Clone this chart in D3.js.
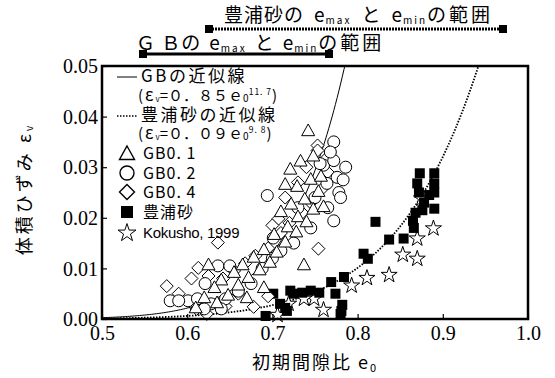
<!DOCTYPE html>
<html>
<head>
<meta charset="utf-8">
<script src="https://cdn.jsdelivr.net/npm/d3@7"></script>
<style>
  body { margin: 0; background: #fff; }
  svg { display: block; }
</style>
</head>
<body>
<svg id="chart" width="555" height="378"></svg>
<script>
// ---- data ----
const xTicks = [0.5, 0.6, 0.7, 0.8, 0.9, 1.0];
const yTicks = [0.00, 0.01, 0.02, 0.03, 0.04, 0.05];

// GB0.1 (triangles) [e0, εv]
const gb01 = [[0.742,0.037],[0.721,0.0294],[0.733,0.031],[0.748,0.032],[0.715,0.0264],[0.729,0.026],
  [0.745,0.0274],[0.754,0.025],[0.738,0.0235],[0.722,0.0225],[0.71,0.021],[0.73,0.02],[0.748,0.0215],
  [0.76,0.022],[0.718,0.018],[0.702,0.0165],[0.737,0.0105],[0.69,0.0135],[0.678,0.012],[0.665,0.0105],
  [0.655,0.009],[0.64,0.0075],[0.625,0.0105],[0.632,0.006],[0.62,0.004],[0.648,0.0045],[0.66,0.0065],
  [0.672,0.008],[0.685,0.0095],[0.697,0.011],[0.705,0.013],[0.61,0.002],[0.635,0.003],[0.67,0.004],
  [0.69,0.006],[0.715,0.015],[0.728,0.017],[0.74,0.019],[0.757,0.028]];
// GB0.2 (circles)
const gb02 = [[0.772,0.035],[0.76,0.0304],[0.772,0.0313],[0.786,0.030],[0.776,0.028],[0.764,0.0268],
  [0.694,0.0244],[0.778,0.025],[0.772,0.0194],[0.756,0.0307],[0.701,0.016],[0.636,0.0105],[0.65,0.0105],
  [0.621,0.007],[0.58,0.0036],[0.601,0.0036],[0.59,0.0036],[0.612,0.004],[0.628,0.003],[0.645,0.004],
  [0.66,0.0055],[0.675,0.007],[0.688,0.01],[0.7,0.012],[0.71,0.0135],[0.725,0.015],[0.745,0.018],
  [0.765,0.022],[0.78,0.024],[0.768,0.033],[0.783,0.0275],[0.62,0.002],[0.64,0.002],[0.73,0.022],[0.75,0.024]];
// GB0.4 (diamonds)
const gb04 = [[0.753,0.0343],[0.753,0.0333],[0.707,0.0198],[0.636,0.0151],[0.754,0.0139],[0.613,0.0101],
  [0.576,0.0065],[0.678,0.0024],[0.623,0.001],[0.611,0.002],[0.59,0.005],[0.605,0.008],[0.625,0.0085],
  [0.642,0.008],[0.655,0.0095],[0.668,0.011],[0.68,0.0125],[0.695,0.014],[0.71,0.017],[0.72,0.019],
  [0.735,0.021],[0.745,0.023],[0.76,0.026],[0.765,0.029],[0.74,0.03],[0.73,0.027],[0.7,0.0185],
  [0.66,0.005],[0.645,0.0025],[0.695,0.0045],[0.715,0.024],[0.762,0.0315]];
// 豊浦砂 (filled squares)
const toyoura = [[0.873,0.0288],[0.890,0.0288],[0.870,0.0268],[0.890,0.0268],[0.872,0.025],[0.890,0.025],
  [0.878,0.023],[0.890,0.0218],[0.868,0.021],[0.865,0.0194],[0.866,0.018],[0.821,0.0192],[0.837,0.0157],
  [0.854,0.0159],[0.807,0.0129],[0.812,0.0119],[0.784,0.0083],[0.769,0.0073],[0.774,0.005],[0.725,0.005],
  [0.745,0.0056],[0.755,0.0052],[0.735,0.0052],[0.782,0.0028],[0.78,0.001],[0.781,0.0016],[0.715,0.0022],
  [0.692,0.0006],[0.709,0.003],[0.717,0.0016],[0.884,0.0245],[0.876,0.0215],[0.701,0.005],[0.721,0.0056]];
// Kokusho, 1999 (stars)
const kokusho = [[0.875,0.0238],[0.889,0.0179],[0.870,0.0159],[0.853,0.0127],[0.870,0.0119],[0.837,0.0087],
  [0.811,0.0081],[0.793,0.0066],[0.760,0.0018],[0.749,0.004],[0.737,0.004],[0.719,0.003],[0.706,0.0008]];

// fitted curves εv = a * e0^b (from legend)
const gbFit = { a: 0.85, b: 11.7 };
const toyFit = { a: 0.09, b: 9.8 };
// emax / emin ranges shown above the chart
const gbRange = [0.548, 0.766];
const toyRange = [0.625, 0.971];

// ---- layout ----
const svg = d3.select("#chart");
const plotL = 102, plotR = 528, plotT = 66, plotB = 319;

const x = d3.scaleLinear().domain([0.5, 1.0]).range([plotL, plotR]);
const y = d3.scaleLinear().domain([0, 0.05]).range([plotB, plotT]);

const serif = "'Liberation Serif', 'Times New Roman', serif";
const jp = "'Noto Sans CJK JP', sans-serif";

svg.append("clipPath").attr("id", "plotclip")
  .append("rect").attr("x", plotL).attr("y", plotT).attr("width", plotR - plotL).attr("height", plotB - plotT);

// fit curves
function fitPoints(fit) {
  const pts = [];
  for (let e = 0.5; e <= 1.0001; e += 0.002) pts.push([e, fit.a * Math.pow(e, fit.b)]);
  return pts;
}
const line = d3.line().x(d => x(d[0])).y(d => y(d[1]));
const curves = svg.append("g").attr("clip-path", "url(#plotclip)");
curves.append("path").attr("d", line(fitPoints(gbFit)))
  .attr("fill", "none").attr("stroke", "#000").attr("stroke-width", 1);
curves.append("path").attr("d", line(fitPoints(toyFit)))
  .attr("fill", "none").attr("stroke", "#000").attr("stroke-width", 1.8).attr("stroke-dasharray", "1.5,1.5");

// markers
const tri = s => `M0,${-s * 0.6}L${s / 2},${s * 0.3}L${-s / 2},${s * 0.3}Z`;
const dia = r => `M0,${-r}L${r},0L0,${r}L${-r},0Z`;
const star = d3.symbol(d3.symbolStar, 80)();

const marks = svg.append("g");
marks.selectAll("path.kok").data(kokusho).join("path").attr("class", "kok")
  .attr("d", star).attr("transform", d => `translate(${x(d[0])},${y(d[1])})`)
  .attr("fill", "#fff").attr("stroke", "#000").attr("stroke-width", 1);
marks.selectAll("rect.toy").data(toyoura).join("rect").attr("class", "toy")
  .attr("x", d => x(d[0]) - 5).attr("y", d => y(d[1]) - 5).attr("width", 10).attr("height", 10)
  .attr("fill", "#000");
marks.selectAll("path.g4").data(gb04).join("path").attr("class", "g4")
  .attr("d", dia(6.5)).attr("transform", d => `translate(${x(d[0])},${y(d[1])})`)
  .attr("fill", "#fff").attr("stroke", "#000").attr("stroke-width", 1);
marks.selectAll("circle.g2").data(gb02).join("circle").attr("class", "g2")
  .attr("cx", d => x(d[0])).attr("cy", d => y(d[1])).attr("r", 6)
  .attr("fill", "#fff").attr("stroke", "#000").attr("stroke-width", 1);
marks.selectAll("path.g1").data(gb01).join("path").attr("class", "g1")
  .attr("d", tri(13)).attr("transform", d => `translate(${x(d[0])},${y(d[1])})`)
  .attr("fill", "#fff").attr("stroke", "#000").attr("stroke-width", 1);

// frame
svg.append("rect").attr("x", plotL).attr("y", plotT).attr("width", plotR - plotL).attr("height", plotB - plotT)
  .attr("fill", "none").attr("stroke", "#000").attr("stroke-width", 2.5);

// axes (inward ticks)
const xAxis = svg.append("g").attr("transform", `translate(0,${plotB})`)
  .call(d3.axisTop(x).tickValues(xTicks).tickSize(5).tickFormat(d3.format(".1f")));
xAxis.select(".domain").remove();
xAxis.selectAll("text").attr("y", 21).attr("dy", 0).style("font-family", serif).style("font-size", "20px");

const yAxis = svg.append("g").attr("transform", `translate(${plotL},0)`)
  .call(d3.axisRight(y).tickValues(yTicks).tickSize(5).tickFormat(d3.format(".2f")));
yAxis.select(".domain").remove();
yAxis.selectAll("text").attr("x", -4).attr("dy", "0.33em").attr("text-anchor", "end")
  .style("font-family", serif).style("font-size", "20px");
yAxis.selectAll("line").attr("stroke-width", 1.2);
xAxis.selectAll("line").attr("stroke-width", 1.2);

// axis titles
const xt = svg.append("text").attr("x", (plotL + plotR) / 2).attr("y", 369).attr("text-anchor", "middle")
  .style("font-family", jp).style("font-size", "18px").style("letter-spacing", "2px");
xt.append("tspan").text("初期間隙比 e");
xt.append("tspan").text("0").attr("font-size", "11px").attr("dy", 3);

const yt = svg.append("text").attr("transform", "translate(31,189) rotate(-90)").attr("text-anchor", "middle")
  .style("font-family", jp).style("font-size", "18px").style("letter-spacing", "3px");
yt.append("tspan").text("体積ひずみ ε");
yt.append("tspan").text("v").attr("font-size", "10px").attr("dy", 2);

// legend
const lg = svg.append("g").style("font-family", jp);
lg.append("line").attr("x1", 117).attr("x2", 137).attr("y1", 77).attr("y2", 77).attr("stroke", "#000");
lg.append("text").attr("x", 141).attr("y", 82).style("font-size", "17px").style("letter-spacing", "2.5px").text("GBの近似線");
function eqText(yPos, coef, pow) {
  const t = lg.append("text").attr("x", 138).attr("y", yPos).style("font-size", "15px");
  t.append("tspan").text("(");
  t.append("tspan").text("ε").attr("dx", 2).attr("font-size", "17px");
  t.append("tspan").text("v").attr("font-size", "8px").attr("dx", 2).attr("dy", 1);
  t.append("tspan").text("=０．" + coef + "ｅ").attr("dy", -1);
  t.append("tspan").text("0").attr("font-size", "10px").attr("dy", 1);
  t.append("tspan").text(pow).attr("font-size", "8.5px").attr("dy", -7).style("letter-spacing", "1px");
  t.append("tspan").text(")").attr("dy", 6);
}
eqText(101, "８５", "11. 7");
lg.append("line").attr("x1", 117).attr("x2", 137).attr("y1", 116).attr("y2", 116)
  .attr("stroke", "#000").attr("stroke-width", 1.6).attr("stroke-dasharray", "1.5,1.5");
lg.append("text").attr("x", 141).attr("y", 121).style("font-size", "17px").style("letter-spacing", "2.5px").text("豊浦砂の近似線");
eqText(139, "０９", "9. 8");

const lx = 127;
lg.append("path").attr("d", tri(15)).attr("transform", `translate(${lx},155)`).attr("fill", "#fff").attr("stroke", "#000").attr("stroke-width", 1.4);
lg.append("circle").attr("cx", lx).attr("cy", 173).attr("r", 7).attr("fill", "#fff").attr("stroke", "#000").attr("stroke-width", 1.4);
lg.append("path").attr("d", dia(7.5)).attr("transform", `translate(${lx},192)`).attr("fill", "#fff").attr("stroke", "#000").attr("stroke-width", 1.4);
lg.append("rect").attr("x", lx - 6).attr("y", 206).attr("width", 12).attr("height", 12).attr("fill", "#000");
lg.append("path").attr("d", d3.symbol(d3.symbolStar, 100)()).attr("transform", `translate(${lx},233)`).attr("fill", "#fff").attr("stroke", "#000").attr("stroke-width", 1);
const legLabels = [["GB0. 1", 159], ["GB0. 2", 179], ["GB0. 4", 198], ["豊浦砂", 218]];
legLabels.forEach(([t, yy]) => {
  lg.append("text").attr("x", 143).attr("y", yy).style("font-size", "16px").style("letter-spacing", "1px").text(t);
});
lg.append("text").attr("x", 143).attr("y", 238).style("font-family", "'Liberation Sans', Arial, sans-serif")
  .style("font-size", "15px").style("letter-spacing", "-0.3px").text("Kokusho, 1999");

// range annotations
function rangeBar(range, yPos, dotted) {
  const g = svg.append("g");
  g.append("line").attr("x1", Math.round(x(range[0]))).attr("x2", Math.round(x(range[1]))).attr("y1", yPos).attr("y2", yPos)
    .attr("stroke", "#000").attr("stroke-width", 3)
    .attr("stroke-dasharray", dotted ? "2,1" : null);
  range.forEach(v => g.append("rect").attr("x", Math.round(x(v)) - 4).attr("y", yPos - 4).attr("width", 8).attr("height", 8).attr("fill", "#000"));
}
rangeBar(toyRange, 29, true);
rangeBar(gbRange, 54, false);

function rangeTitle(xPos, yPos, head, gap) {
  const t = svg.append("text").attr("x", xPos).attr("y", yPos).style("font-family", jp).style("font-size", "19px")
    .style("letter-spacing", "1px");
  t.append("tspan").text(head);
  t.append("tspan").text("e").attr("dx", gap);
  t.append("tspan").text("max").attr("font-size", "10px").attr("dy", 2).style("letter-spacing", "2px");
  t.append("tspan").text("と").attr("dx", gap).attr("dy", -2);
  t.append("tspan").text("e").attr("dx", gap);
  t.append("tspan").text("min").attr("font-size", "10px").attr("dy", 2).style("letter-spacing", "2px");
  t.append("tspan").text("の範囲").attr("dy", -2).style("letter-spacing", "3px");
}
rangeTitle(224, 22, "豊浦砂の", 10);
rangeTitle(136, 50, "Ｇ Ｂの", 8);
</script>
</body>
</html>
